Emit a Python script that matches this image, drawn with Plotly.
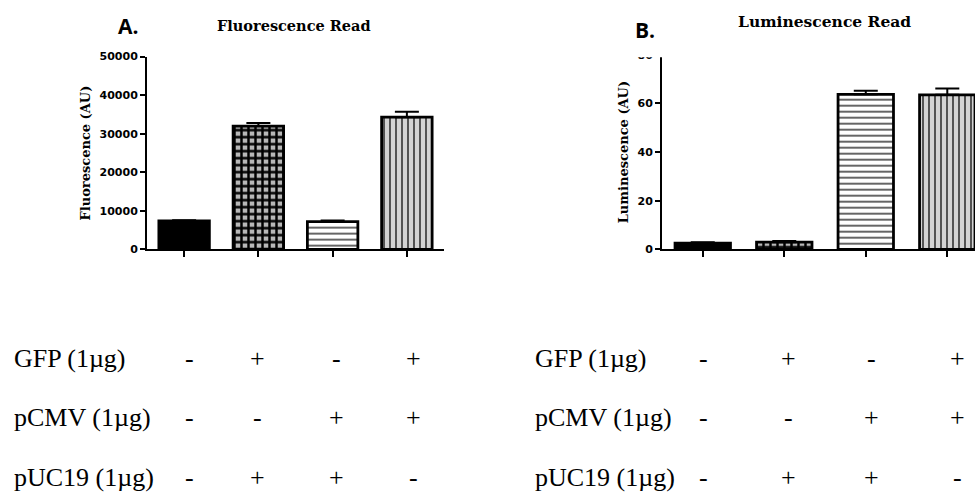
import plotly.graph_objects as go

# ---- data -------------------------------------------------------------
groups = ["ctrl", "GFP+pUC19", "pCMV+pUC19", "GFP+pCMV"]

fluor_mean = [7400, 32000, 7200, 34300]
fluor_sd = [150, 800, 300, 1400]

lum_mean = [2.6, 3.0, 63.7, 63.5]
lum_sd = [0.4, 0.5, 1.5, 2.6]

fluor_ticks = [0, 10000, 20000, 30000, 40000, 50000]
lum_ticks = [0, 20, 40, 60, 80]

row_labels = ["GFP (1µg)", "pCMV (1µg)", "pUC19 (1µg)"]
gfp_signs = ["-", "+", "-", "+"]
pcmv_signs = ["-", "-", "+", "+"]
puc19_signs = ["-", "+", "+", "-"]

# ---- layout helpers (pixel -> paper) ----------------------------------
W, H = 975, 497


def px(v):
    return v / W


def py(v):
    return 1 - v / H


# bar fill styles: solid, checker-like, horizontal lines, vertical lines
bar_styles = [
    dict(bg="black", shape="", fg="black", size=6, solidity=0.3),
    dict(bg="#b8b8b8", shape="+", fg="black", size=7, solidity=0.58),
    dict(bg="white", shape="-", fg="#333333", size=6, solidity=0.25),
    dict(bg="#d3d3d3", shape="|", fg="#444444", size=6, solidity=0.3),
]


def add_panel(fig, means, sds, xa, ya):
    for g, m, s, st in zip(groups, means, sds, bar_styles):
        fig.add_trace(go.Bar(
            x=[g],
            y=[m],
            width=0.68,
            xaxis=xa,
            yaxis=ya,
            marker=dict(
                color=st["bg"],
                line=dict(color="black", width=2.8),
                pattern=dict(
                    shape=st["shape"],
                    fgcolor=st["fg"],
                    bgcolor=st["bg"],
                    fgopacity=1,
                    size=st["size"],
                    solidity=st["solidity"],
                    fillmode="overlay",
                ),
            ),
            error_y=dict(
                type="data",
                symmetric=False,
                array=[s],
                arrayminus=[0],
                color="black",
                thickness=2,
                width=12,
            ),
            showlegend=False,
            hoverinfo="skip",
        ))


fig = go.Figure()
add_panel(fig, fluor_mean, fluor_sd, "x", "y")
add_panel(fig, lum_mean, lum_sd, "x2", "y2")

tick_font = dict(family="DejaVu Sans", size=11, color="black", weight="bold")
title_font = dict(family="DejaVu Serif", size=13, color="black", weight="bold")

common_x = dict(
    showline=True, linecolor="black", linewidth=2,
    ticks="outside", ticklen=6, tickwidth=2, tickcolor="black",
    showticklabels=False, showgrid=False, zeroline=False,
    type="category", categoryorder="array", categoryarray=groups,
    fixedrange=True,
)
common_y = dict(
    showline=True, linecolor="black", linewidth=2,
    ticks="outside", ticklen=5, tickwidth=2, tickcolor="black",
    tickfont=tick_font, showgrid=False, zeroline=False, fixedrange=True,
)

fig.update_layout(
    width=W, height=H,
    margin=dict(l=0, r=0, t=0, b=0),
    paper_bgcolor="white", plot_bgcolor="white",
    barmode="overlay",
    xaxis=dict(common_x, domain=[px(147), px(444)], range=[-0.5, 3.5], anchor="y"),
    yaxis=dict(
        common_y, domain=[py(250), py(52)], range=[0, 50000], anchor="x",
        tickvals=fluor_ticks, ticktext=[str(t) for t in fluor_ticks],
        title=dict(text="Fluorescence (AU)", font=title_font, standoff=6),
    ),
    xaxis2=dict(common_x, domain=[px(662), 1.0], range=[-0.5, 3.34], anchor="y2"),
    yaxis2=dict(
        common_y, domain=[py(250), py(50)], range=[0, 80], anchor="x2",
        tickvals=lum_ticks, ticktext=[str(t) for t in lum_ticks],
        title=dict(text="Luminescence (AU)", font=title_font, standoff=6),
    ),
)

# top of the luminescence axis is cut off just below 80
fig.add_shape(
    type="rect", xref="paper", yref="paper", layer="above",
    x0=px(620), x1=px(670), y0=py(52.5), y1=py(38),
    fillcolor="white", line=dict(width=0),
)

annotations = []

# panel letters
annotations.append(dict(text="A.", x=px(116), y=py(21), xanchor="left", yanchor="middle",
                        font=dict(family="Open Sans", size=21, color="black", weight="bold")))
annotations.append(dict(text="B.", x=px(633), y=py(25), xanchor="left", yanchor="middle",
                        font=dict(family="Open Sans", size=21, color="black", weight="bold")))

# panel titles
annotations.append(dict(text="Fluorescence Read", x=px(294), y=py(20), xanchor="center",
                        yanchor="middle", font=dict(title_font, size=14.5)))
annotations.append(dict(text="Luminescence Read", x=px(824), y=py(16), xanchor="center",
                        yanchor="middle", font=dict(title_font, size=15.5)))

# treatment table under each panel
table_font = dict(family="Liberation Serif", size=26, color="black")
row_y = [362, 423, 484]
sign_rows = [gfp_signs, pcmv_signs, puc19_signs]
panels = [
    dict(label_x=12, cols=[189, 257, 336, 413]),
    dict(label_x=533, cols=[703, 788, 871, 957]),
]
for panel in panels:
    for label, yy, signs in zip(row_labels, row_y, sign_rows):
        annotations.append(dict(text=label, x=px(panel["label_x"]), y=py(yy),
                                xanchor="left", yanchor="middle", font=table_font))
        for cx, s in zip(panel["cols"], signs):
            annotations.append(dict(text=s, x=px(cx), y=py(yy), xanchor="center",
                                    yanchor="middle", font=table_font))

for a in annotations:
    a.update(xref="paper", yref="paper", showarrow=False)
fig.update_layout(annotations=annotations)

fig.write_html("out.html")
